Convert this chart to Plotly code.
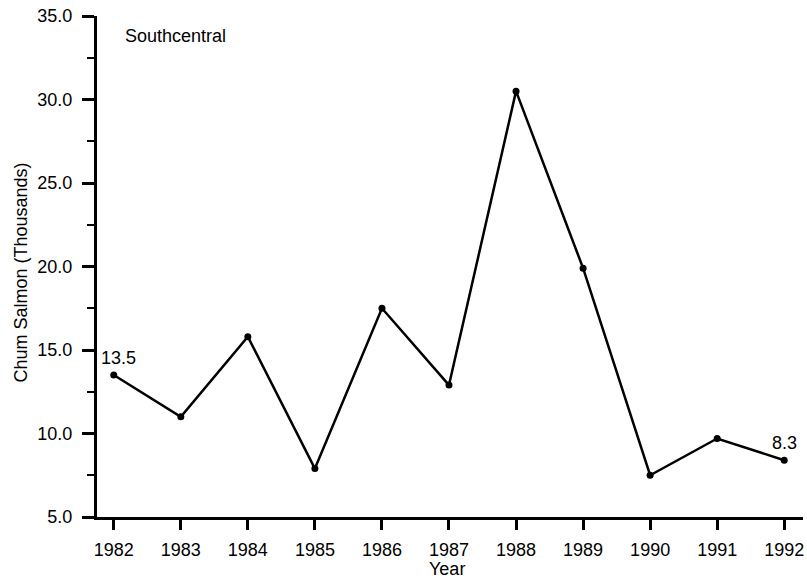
import plotly.graph_objects as go

years = [1982, 1983, 1984, 1985, 1986, 1987, 1988, 1989, 1990, 1991, 1992]
chum = [13.5, 11.0, 15.8, 7.9, 17.5, 12.9, 30.5, 19.9, 7.5, 9.7, 8.4]
y_ticks = [5, 10, 15, 20, 25, 30, 35]
y_tick_labels = ["5.0", "10.0", "15.0", "20.0", "25.0", "30.0", "35.0"]
end_labels = ["13.5", "8.3"]

FS = 18
font = dict(family="Liberation Sans, Arial, sans-serif", color="black")

fig = go.Figure()
fig.add_trace(go.Scatter(
    x=years, y=chum, mode="lines+markers",
    line=dict(color="black", width=2.5),
    marker=dict(color="black", size=7),
    showlegend=False, cliponaxis=False,
))

fig.add_annotation(x=years[0], y=chum[0], text=end_labels[0], showarrow=False,
                   xanchor="center", yanchor="middle", yshift=17, xshift=5,
                   font=dict(size=FS, **font))
fig.add_annotation(x=years[-1], y=chum[-1], text=end_labels[1], showarrow=False,
                   xanchor="center", yanchor="middle", yshift=17, xshift=0,
                   font=dict(size=FS, **font))
fig.add_annotation(x=1982, y=33.8, text="Southcentral",
                   showarrow=False, xanchor="left", yanchor="middle", xshift=9,
                   font=dict(size=FS, **font))
fig.add_annotation(x=0.5, y=0, xref="paper", yref="paper", text="Year",
                   showarrow=False, xanchor="center", yanchor="middle", yshift=-52, xshift=-3,
                   font=dict(size=FS, **font))
fig.add_annotation(x=0, y=0.5, xref="paper", yref="paper", text="Chum Salmon (Thousands)",
                   showarrow=False, xanchor="center", yanchor="middle", xshift=-77, yshift=-6,
                   textangle=-90, font=dict(size=FS, **font))

fig.update_layout(
    width=807, height=580,
    margin=dict(l=97, r=4, t=16, b=63),
    plot_bgcolor="white", paper_bgcolor="white",
    font=dict(size=FS, **font),
)
fig.update_xaxes(
    range=[1981.75, 1992.28], tickmode="array", tickvals=years,
    ticktext=[str(y) for y in years],
    showgrid=False, zeroline=False, showline=True, linecolor="black", linewidth=3,
    ticks="outside", ticklen=10, tickwidth=2.5, tickcolor="black",
    ticklabelstandoff=4, ticklabeloverflow="allow", automargin=False,
    tickfont=dict(size=FS, **font),
)
fig.update_yaxes(
    range=[5, 35], tickmode="array", tickvals=y_ticks, ticktext=y_tick_labels,
    showgrid=False, zeroline=False, showline=True, linecolor="black", linewidth=3,
    ticks="outside", ticklen=12, tickwidth=2.5, tickcolor="black",
    ticklabelstandoff=6, ticklabeloverflow="allow", automargin=False,
    minor=dict(dtick=2.5, ticks="outside", ticklen=7, tickwidth=2, tickcolor="black", showgrid=False),
    tickfont=dict(size=FS, **font),
)

fig.write_html(
    "out.html",
    config={"displayModeBar": False},
    post_script="document.body.style.margin='0';document.body.style.overflow='hidden';",
)
